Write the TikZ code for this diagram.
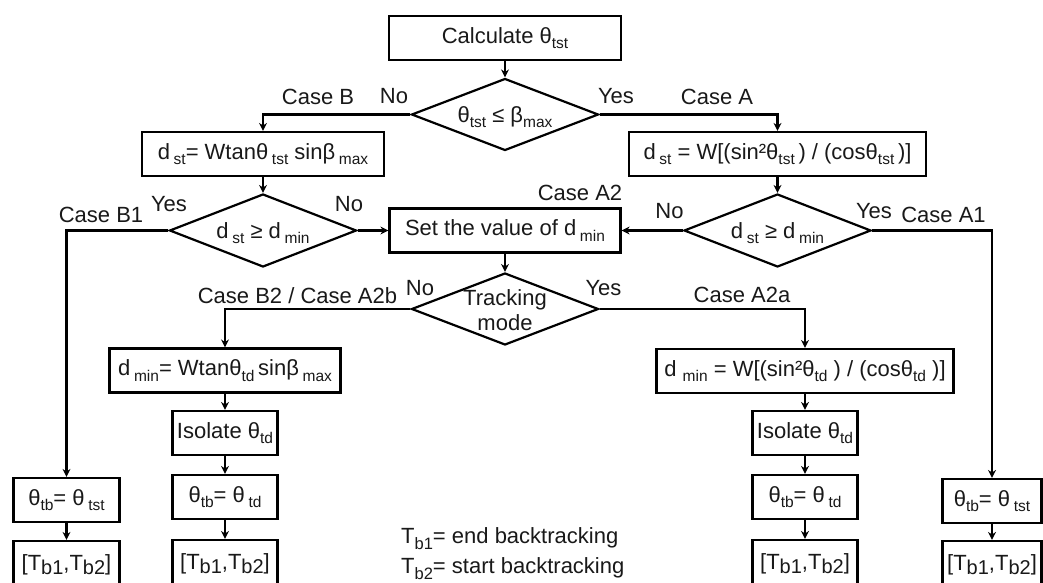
\documentclass[tikz,border=0pt]{standalone}
\usepackage{fontspec}
\setmainfont{Liberation Sans}
\usetikzlibrary{shapes.geometric,arrows.meta}
\newcommand\sbx[1]{\raisebox{-0.24em}{\fontsize{15.5}{16}\selectfont #1}}
\newcommand\sbT[1]{\raisebox{-0.18em}{\fontsize{20}{20}\selectfont #1}}
\newcommand\sbL[1]{\raisebox{-0.3em}{\fontsize{16.5}{17}\selectfont #1}}
\newcommand\dtext[1]{\makebox[0pt]{\raisebox{-0.36em}[0pt][0pt]{#1}}}
\begin{document}
\begin{tikzpicture}[x=1pt,y=1pt,
  txt/.style={font=\fontsize{22}{25}\selectfont, text=black!90},
  box/.style={txt, draw, line width=2.2pt, minimum height=44pt, inner sep=2pt},
  dia/.style={txt, draw, shape=diamond, line width=2.2pt, inner sep=0pt,
    minimum width=187pt, minimum height=72pt},
  lbl/.style={txt, inner sep=0pt},
  arr/.style={line width=2.2pt, -{Stealth[length=8pt,width=8pt]}}]
\fill[white] (0,0) rectangle (1043,-583);
\useasboundingbox (0,0) rectangle (1043,-583);
\clip (0,0) rectangle (1043,-583);

% top
\node[box, minimum width=232pt] (calc) at (505,-38) {Calculate θ\sbx{tst}};
\node[dia] (d1) at (505,-114.5) {\dtext{θ\sbx{tst} ≤ β\sbx{max}}};

\node[box, minimum width=242pt] (bB) at (263,-154) {d\,\sbx{st}= Wtanθ\,\sbx{tst} sinβ\,\sbx{max}};
\node[box, minimum width=297pt] (bA) at (777.5,-154) {d\,\sbx{st} = W[(sin²θ\sbx{tst}\,) / (cosθ\sbx{tst}\,)]};

\node[dia, minimum height=73pt] (dB) at (263,-230.5) {\dtext{d\,\sbx{st} ≥ d\,\sbx{min}}};
\node[dia, minimum height=73pt] (dA) at (777.5,-230.5) {\dtext{d\,\sbx{st} ≥ d\,\sbx{min}}};
\node[box, minimum width=231pt] (setb) at (505,-230.5) {Set the value of d\,\sbx{min}};

\node[dia] (track) at (505,-309) {\makebox[0pt]{\raisebox{-21pt}[0pt][0pt]{\begin{tabular}[b]{@{}c@{}}Tracking\\mode\end{tabular}}}};

% left branch
\node[box, minimum width=231pt] (dminL) at (225,-370.5) {d\,\sbx{min}= Wtanθ\sbx{td}\,sinβ\,\sbx{max}};
\node[box, minimum width=105pt] (isoL) at (225,-433) {Isolate θ\sbx{td}};
\node[box, minimum width=105pt] (tbL) at (225,-497) {θ\sbx{tb}= θ\,\sbx{td}};
\node[box, minimum width=105pt, minimum height=48pt] (TL) at (225,-564) {[T\sbT{b1},T\sbT{b2}]};

% right branch
\node[box, minimum width=297pt] (dminR) at (805,-371) {d \sbx{min} = W[(sin²θ\sbx{td} ) / (cosθ\sbx{td} )]};
\node[box, minimum width=105pt] (isoR) at (805,-433) {Isolate θ\sbx{td}};
\node[box, minimum width=105pt] (tbR) at (805,-497) {θ\sbx{tb}= θ\,\sbx{td}};
\node[box, minimum width=105pt, minimum height=48pt] (TR) at (805,-564) {[T\sbT{b1},T\sbT{b2}]};

% outer columns
\node[box, minimum width=106pt] (colL) at (66.5,-500) {θ\sbx{tb}= θ\,\sbx{tst}};
\node[box, minimum width=106pt, minimum height=48pt] (TL0) at (66.5,-565) {[T\sbT{b1},T\sbT{b2}]};
\node[box, minimum width=99pt] (colR) at (992,-501) {θ\sbx{tb}= θ\,\sbx{tst}};
\node[box, minimum width=99pt, minimum height=48pt] (TR0) at (992,-565) {[T\sbT{b1},T\sbT{b2}]};

% labels
\node[lbl] (lCB) at (318,-96.5) {Case B};
\node[lbl] (lNo1) at (394,-96.5) {No};
\node[lbl] (lYes1) at (616,-96.5) {Yes};
\node[lbl] (lCA) at (717,-96.5) {Case A};
\node[lbl] (lYesB) at (169,-204) {Yes};
\node[lbl] (lNoB) at (349,-204) {No};
\node[lbl] (lCB1) at (101,-214.5) {Case B1};
\node[lbl] (lCA2) at (580,-192.5) {Case A2};
\node[lbl] (lNoA) at (669.5,-211) {No};
\node[lbl] (lYesA) at (874,-211) {Yes};
\node[lbl] (lCA1) at (943.5,-214.5) {Case A1};
\node[lbl] (lNoT) at (420,-288.5) {No};
\node[lbl] (lYesT) at (603.5,-288.5) {Yes};
\node[lbl] (lCB2) at (297.5,-295.5) {Case B2 / Case A2b};
\node[lbl] (lCA2a) at (742,-294.5) {Case A2a};

% legend
\node[lbl, anchor=base west] (leg1) at (401,-543) {T\sbL{b1}= end backtracking};
\node[lbl, anchor=base west] (leg2) at (401,-573) {T\sbL{b2}= start backtracking};

% connectors
\draw[arr] (calc.south) -- (d1.north);
\draw[arr] (d1.west) -| (bB.north);
\draw[arr] (d1.east) -| (bA.north);
\draw[arr] (bB.south) -- (dB.north);
\draw[arr] (bA.south) -- (dA.north);
\draw[arr] (dB.east) -- (setb.west);
\draw[arr] (dA.west) -- (setb.east);
\draw[arr] (dB.west) -| (colL.north);
\draw[arr] (dA.east) -| (colR.north);
\draw[arr] (setb.south) -- (track.north);
\draw[arr] (track.west) -| (dminL.north);
\draw[arr] (track.east) -| (dminR.north);
\draw[arr] (dminL.south) -- (isoL.north);
\draw[arr] (isoL.south) -- (tbL.north);
\draw[arr] (tbL.south) -- (TL.north);
\draw[arr] (dminR.south) -- (isoR.north);
\draw[arr] (isoR.south) -- (tbR.north);
\draw[arr] (tbR.south) -- (TR.north);
\draw[arr] (colL.south) -- (TL0.north);
\draw[arr] (colR.south) -- (TR0.north);
\end{tikzpicture}
\end{document}
